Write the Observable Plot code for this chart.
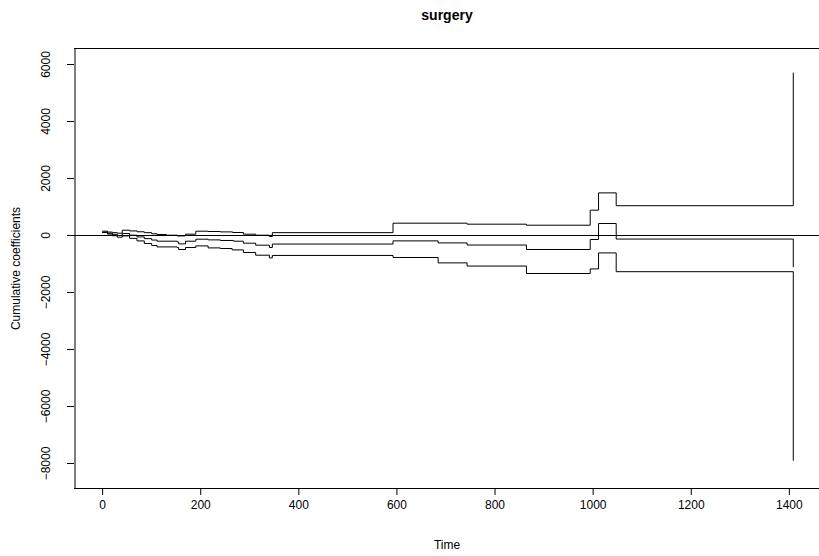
<!DOCTYPE html>
<html>
<head>
<meta charset="utf-8">
<script src="https://cdn.jsdelivr.net/npm/d3@7"></script>
<script src="https://cdn.jsdelivr.net/npm/@observablehq/plot@0.6"></script>
<style>
  html, body { margin: 0; padding: 0; background: #ffffff; }
</style>
</head>
<body>
<div id="chart"></div>
<script>
const chartTitle = "surgery";
const xLabel = "Time";
const yLabel = "Cumulative coefficients";
const xTicks = [0, 200, 400, 600, 800, 1000, 1200, 1400];
const yTicks = [-8000, -6000, -4000, -2000, 0, 2000, 4000, 6000];

// step times and values
const timesUpper = [0, 10, 20, 30, 40, 55, 70, 85, 100, 111, 130, 152, 169, 190, 215, 240, 265, 287, 312, 340, 346, 592, 743, 864, 994, 1011, 1047, 1408];
const upperValues = [151, 120, 100, 80, 186, 160, 130, 100, 60, 35, 10, -15, 46, 151, 140, 126, 105, 46, 10, -35, 100, 432, 397, 361, 888, 1495, 1045, 5700];

const timesEstimate = [0, 10, 20, 30, 40, 55, 70, 85, 100, 111, 152, 155, 169, 190, 215, 240, 267, 287, 312, 340, 346, 592, 684, 743, 864, 994, 1011, 1047, 1408];
const estimateValues = [116, 80, 40, 0, 70, 10, -50, -110, -160, -200, -225, -295, -200, -130, -154, -175, -200, -270, -340, -421, -300, -189, -260, -335, -491, -140, 421, -125, -1102];

const timesLower = [0, 10, 20, 30, 40, 55, 70, 85, 100, 111, 152, 155, 169, 190, 215, 240, 264, 287, 312, 340, 346, 592, 684, 743, 864, 994, 1011, 1047, 1408];
const lowerValues = [105, 50, -10, -60, -14, -100, -190, -280, -350, -400, -421, -491, -421, -365, -435, -456, -505, -597, -691, -786, -700, -772, -961, -1072, -1333, -1172, -611, -1270, -7886];

const xDomain = [-56.3, 1464.3];
const yDomain = [-8877, 6561];

const rows = [];
timesUpper.forEach((t, i) => rows.push({series: "upper", t, v: upperValues[i]}));
timesEstimate.forEach((t, i) => rows.push({series: "estimate", t, v: estimateValues[i]}));
timesLower.forEach((t, i) => rows.push({series: "lower", t, v: lowerValues[i]}));

const chart = Plot.plot({
  width: 819,
  height: 556,
  marginLeft: 74,
  marginRight: 0,
  marginTop: 48,
  marginBottom: 68,
  style: {fontFamily: "'Liberation Sans', Arial, Helvetica, sans-serif", fontSize: "12px", background: "#ffffff", color: "#000"},
  x: {domain: xDomain, range: [74.5, 820.4]},
  y: {domain: yDomain, range: [488, 48]},
  marks: [
    Plot.ruleY([0], {stroke: "#000", strokeWidth: 1}),
    Plot.line(rows, {x: "t", y: "v", z: "series", curve: "step-after", stroke: "#000", strokeWidth: 1}),
    Plot.ruleY([yDomain[1], yDomain[0]], {stroke: "#000", strokeWidth: 1}),
    Plot.ruleX([xDomain[0]], {stroke: "#000", strokeWidth: 1}),
    Plot.axisX({ticks: xTicks, tickSize: 7, tickPadding: 5, tickFormat: d => String(d), label: null, fontSize: 12}),
    Plot.axisY({ticks: yTicks, tickSize: 7, tickPadding: 18, tickRotate: -90, tickFormat: d => d < 0 ? "\u2212" + Math.abs(d) : String(d), label: null, fontSize: 12}),
    Plot.text([chartTitle], {frameAnchor: "top", dy: -38, fontWeight: "bold", fontSize: 14}),
    Plot.text([xLabel], {frameAnchor: "bottom", dy: 60, fontSize: 12}),
    Plot.text([yLabel], {frameAnchor: "left", dx: -58, rotate: -90, textAnchor: "middle", fontSize: 12})
  ]
});
document.getElementById("chart").appendChild(chart);
</script>
</body>
</html>
